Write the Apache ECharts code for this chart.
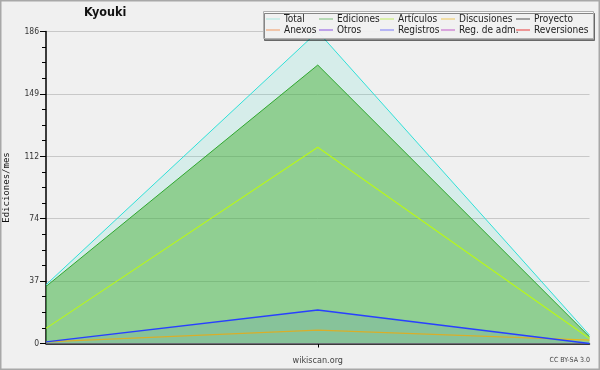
<!DOCTYPE html>
<html>
<head>
<meta charset="utf-8">
<script src="https://cdn.jsdelivr.net/npm/echarts@6/dist/echarts.min.js"></script>
<style>
html,body{margin:0;padding:0;background:#f0f0f0;}
#c{width:600px;height:370px;}
</style>
</head>
<body>
<div id="c"></div>
<script>
// ---- data ----
var categories = ['', 'wikiscan.org', ''];
var yTicks = [0, 37, 74, 112, 149, 186];
var totalVals = [35, 186, 5];
var edicionesVals = [34, 166, 4];
var articulosVals = [9, 117, 3];
var discusionesVals = [1, 8, 2];
var otrosVals = [1, 20, 0];
var proyectoVals = [0, 0, 0];
var anexosVals = [];
var registrosVals = [];
var regAdmVals = [];
var reversionesVals = [];
var legendNames = [
  ['Total', 'Anexos'],
  ['Ediciones', 'Otros'],
  ['Artículos', 'Registros'],
  ['Discusiones', 'Reg. de adm.'],
  ['Proyecto', 'Reversiones']
];

var FONT = "'DejaVu Sans Condensed', 'DejaVu Sans', sans-serif";
var chart = echarts.init(document.getElementById('c'), null, {renderer: 'canvas'});

var swatch = {
  'Total': '#a8e8e0', 'Anexos': '#f09860',
  'Ediciones': '#78c078', 'Otros': '#8850e0',
  'Artículos': '#c0ec60', 'Registros': '#7878f8',
  'Discusiones': '#f0c858', 'Reg. de adm.': '#c058c8',
  'Proyecto': '#505050', 'Reversiones': '#e83838'
};
var colLeft = [266, 319, 380, 441, 516];
var legends = legendNames.map(function (names, i) {
  return {
    orient: 'vertical', left: colLeft[i], top: 13.5, padding: 0, itemGap: 0,
    itemWidth: 14, itemHeight: 1, icon: 'rect', selectedMode: false, z: 30,
    textStyle: {fontFamily: FONT, fontSize: 10, lineHeight: 11, color: '#222', padding: [0, 0, 0, -1]},
    data: names.map(function (n) { return {name: n, itemStyle: {color: swatch[n]}}; })
  };
});

function lineSeries(name, data, color, width, area, z) {
  var s = {
    name: name, type: 'line', data: data, symbol: 'none', z: z,
    lineStyle: {color: color, width: width}, itemStyle: {color: color},
    emphasis: {disabled: true}, animation: false
  };
  if (area) s.areaStyle = {color: area, opacity: 1};
  return s;
}

var option = {
  backgroundColor: '#f0f0f0',
  animation: false,
  title: {
    text: 'Kyouki', left: 84, top: 6, padding: 0,
    textStyle: {fontFamily: FONT, fontWeight: 'bold', fontSize: 12.5, color: '#111'}
  },
  legend: legends,
  grid: {left: 46, right: 10.5, top: 31.5, bottom: 26.5, containLabel: false, outerBoundsMode: 'none'},
  xAxis: {
    type: 'category', data: categories, boundaryGap: false,
    axisLine: {lineStyle: {color: '#000', width: 1.5}},
    axisTick: {show: true, length: 4, interval: function (i) { return i === 1; }, lineStyle: {color: '#000'}},
    axisLabel: {margin: 13, fontFamily: FONT, fontSize: 9, color: '#444',
      interval: function (i) { return i === 1; }},
    splitLine: {show: false}
  },
  yAxis: {
    type: 'value', min: 0, max: 186, interval: 37.2,
    name: 'Ediciones/mes', nameLocation: 'middle', nameGap: 35, nameRotate: 90,
    nameTextStyle: {fontFamily: "'DejaVu Sans Mono', monospace", fontSize: 9, color: '#111'},
    axisLine: {show: true, lineStyle: {color: '#000', width: 1.5}},
    axisTick: {show: true, length: 6, lineStyle: {color: '#000'}},
    minorTick: {show: true, splitNumber: 4, length: 4, lineStyle: {color: '#000'}},
    axisLabel: {margin: 7, fontFamily: FONT, fontSize: 8.5, color: '#333',
      formatter: function (v) {
        var best = yTicks[0];
        yTicks.forEach(function (t) { if (Math.abs(t - v) < Math.abs(best - v)) best = t; });
        return String(best);
      }},
    splitLine: {show: true, lineStyle: {color: '#c8c8c8', width: 1}}
  },
  series: [
    lineSeries('Total', totalVals, '#30e0d8', 1, 'rgba(64,220,200,0.15)', 2),
    lineSeries('Ediciones', edicionesVals, '#30a830', 1, 'rgba(60,170,40,0.45)', 3),
    lineSeries('Artículos', articulosVals, '#b8f818', 1.1, null, 4),
    lineSeries('Discusiones', discusionesVals, '#e8b818', 1.2, null, 5),
    lineSeries('Proyecto', proyectoVals, '#707070', 1, null, 5),
    lineSeries('Anexos', anexosVals, '#f08040', 1, null, 5),
    lineSeries('Otros', otrosVals, '#2840ff', 1.4, 'rgba(40,60,255,0.08)', 6),
    lineSeries('Registros', registrosVals, '#6060ff', 1, null, 5),
    lineSeries('Reg. de adm.', regAdmVals, '#c040c0', 1, null, 5),
    lineSeries('Reversiones', reversionesVals, '#e02020', 1, null, 5)
  ],
  graphic: [
    {type: 'rect', z: 20, silent: true, shape: {x: 263.5, y: 11.5, width: 330, height: 27},
      style: {fill: 'rgba(250,250,250,0.92)', stroke: '#b0b0b0', lineWidth: 1,
        shadowColor: 'rgba(0,0,0,0.45)', shadowOffsetX: 1, shadowOffsetY: 2, shadowBlur: 0}},
    {type: 'text', z: 20, silent: true, right: 10, top: 357,
      style: {text: 'CC BY-SA 3.0', fontFamily: FONT, fontSize: 7, fill: '#444'}},
    {type: 'rect', z: 40, silent: true, shape: {x: 0.5, y: 0.5, width: 599, height: 369},
      style: {fill: 'none', stroke: '#a8a8a8', lineWidth: 2}}
  ]
};
chart.setOption(option);
</script>
</body>
</html>
